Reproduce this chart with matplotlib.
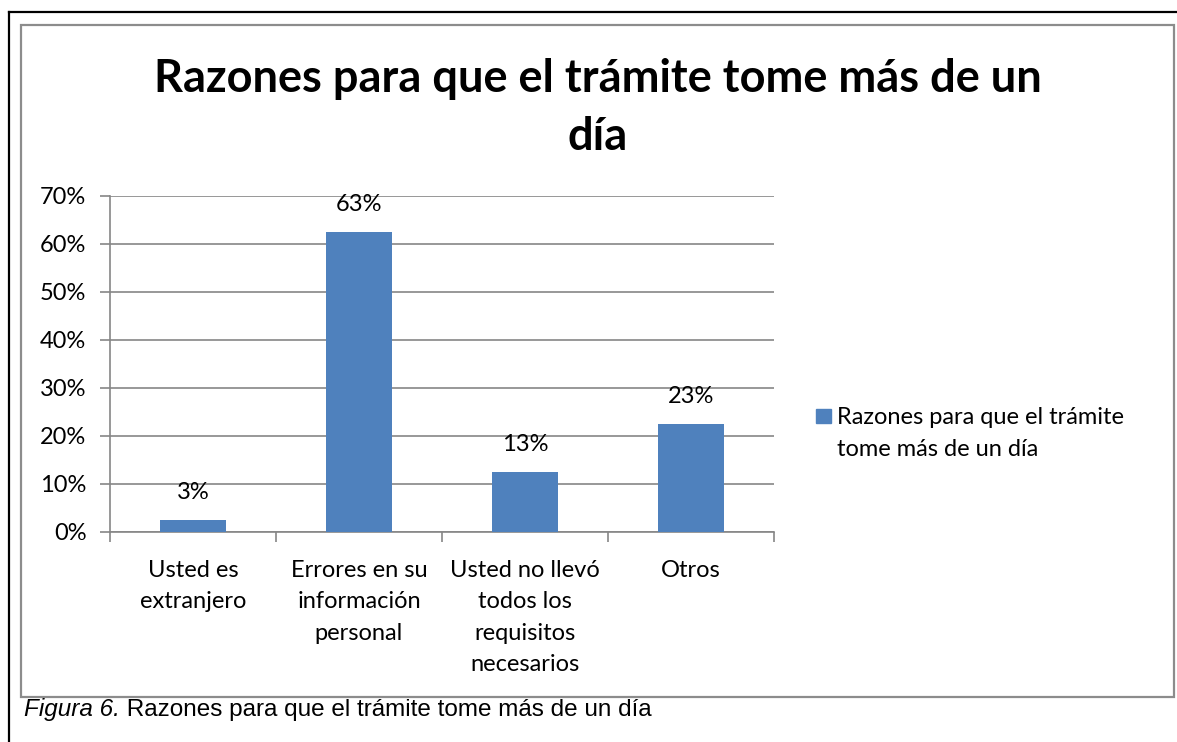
import matplotlib
matplotlib.use("Agg")
import matplotlib.pyplot as plt
from matplotlib.patches import Rectangle
from matplotlib.lines import Line2D

categorias = ["Usted es\nextranjero", "Errores en su\ninformación\npersonal",
              "Usted no llevó\ntodos los\nrequisitos\nnecesarios", "Otros"]
valores = [2.5, 62.5, 12.5, 22.5]
etiquetas = ["3%", "63%", "13%", "23%"]
yticks = [0, 10, 20, 30, 40, 50, 60, 70]
titulo = "Razones para que el trámite tome más de un\ndía"
serie = "Razones para que el trámite\ntome más de un día"

W, H = 1177, 742
plt.rcParams['font.family'] = ['Lato', 'DejaVu Sans']
fig = plt.figure(figsize=(W / 100, H / 100), dpi=100)

def fx(px):
    return px / W

def fy(py):
    return 1 - py / H

# borders: black page frame (left+top) and gray chart box
fig.add_artist(Line2D([fx(9), fx(9)], [fy(12), 0], color="black", lw=1.6))
fig.add_artist(Line2D([fx(9), 1], [fy(12), fy(12)], color="black", lw=1.6))
fig.add_artist(Rectangle((fx(21), fy(697)), fx(1174) - fx(21), fy(25) - fy(697),
                         fill=False, edgecolor="#8c8c8c", lw=1.6))

ax = fig.add_axes([fx(110), fy(532), fx(774) - fx(110), fy(196) - fy(532)])
x = list(range(len(valores)))
bars = ax.bar(x, valores, width=0.4, color="#4f81bd", zorder=3)
for xi, v, lab in zip(x, valores, etiquetas):
    ax.annotate(lab, (xi, v), xytext=(0, 12), textcoords="offset points",
                ha="center", va="bottom", fontsize=17)

ax.set_xlim(-0.5, len(valores) - 0.5)
ax.set_ylim(0, 70)
ax.set_yticks(yticks)
ax.set_yticklabels([f"{t}%" for t in yticks], fontsize=17)
ax.set_xticks(x)
ax.set_xticklabels(categorias, fontsize=17, linespacing=1.62)
ax.set_xticks([i - 0.5 for i in range(len(valores) + 1)], minor=True)
ax.tick_params(axis="x", which="major", length=0, pad=20)
ax.tick_params(axis="x", which="minor", length=7, color="#868686", width=1.2)
ax.tick_params(axis="y", length=7, color="#868686", width=1.2, pad=10)
ax.grid(axis="y", color="#868686", lw=1.2, zorder=0)
for s in ["top", "right"]:
    ax.spines[s].set_visible(False)
for s in ["left", "bottom"]:
    ax.spines[s].set_color("#868686")
    ax.spines[s].set_linewidth(1.2)

fig.text(fx(598), fy(108), titulo, ha="center", va="center", fontsize=32.5,
         fontweight="bold", linespacing=1.5)

# legend: square + wrapped series name (baseline = last line)
fig.add_artist(Rectangle((fx(816), fy(423)), fx(15), 14 / H, color="#4f81bd"))
fig.text(fx(837), fy(456), serie, fontsize=17, va="baseline", ha="left",
         linespacing=1.62)

cap = fig.text(fx(24), fy(716), "Figura 6.", fontsize=17.5, style="italic",
               family="Liberation Sans", va="baseline")
fig.canvas.draw()
ext = cap.get_window_extent()
fig.text(ext.x1 / W, fy(716), " Razones para que el trámite tome más de un día",
         fontsize=17.5, family="Liberation Sans", va="baseline")

fig.savefig("out.png", dpi=100)
